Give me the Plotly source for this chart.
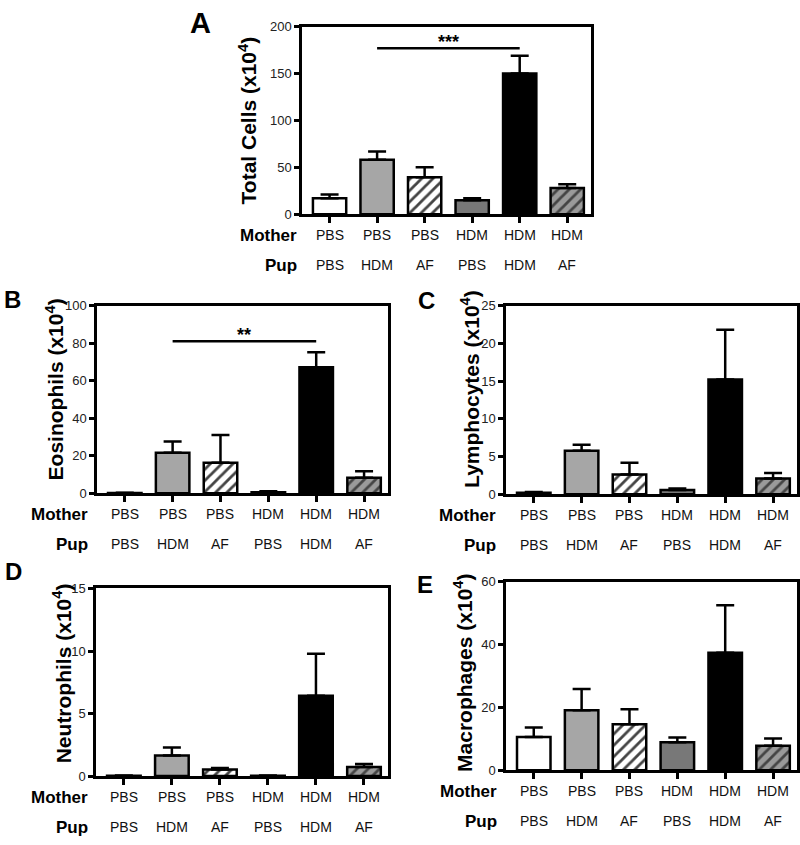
import plotly.graph_objects as go

# ---------------- data ----------------
mother = ["PBS", "PBS", "PBS", "HDM", "HDM", "HDM"]
pup = ["PBS", "HDM", "AF", "PBS", "HDM", "AF"]
groups = list(range(len(mother)))

total_mean = [17, 58, 39.5, 15, 150, 28]
total_sem = [4, 9, 10.5, 2, 19, 4]
eos_mean = [0.1, 21.5, 16.2, 0.5, 67.2, 8.2]
eos_sem = [0.1, 6.1, 14.8, 0.5, 8.0, 3.5]
lym_mean = [0.2, 5.77, 2.6, 0.55, 15.2, 2.08]
lym_sem = [0.1, 0.78, 1.57, 0.2, 6.6, 0.72]
neu_mean = [0.03, 1.64, 0.52, 0.03, 6.42, 0.73]
neu_sem = [0.02, 0.65, 0.13, 0.02, 3.36, 0.23]
mac_mean = [10.6, 19.1, 14.6, 8.9, 37.4, 7.8]
mac_sem = [3.0, 6.7, 4.8, 1.5, 15.1, 2.3]

titles = ["Total Cells (x10<sup>4</sup>)", "Eosinophils (x10<sup>4</sup>)",
          "Lymphocytes (x10<sup>4</sup>)", "Neutrophils (x10<sup>4</sup>)",
          "Macrophages (x10<sup>4</sup>)"]
letters = ["A", "B", "C", "D", "E"]
y_max = [200, 100, 25, 15, 60]
y_dtick = [50, 20, 5, 5, 20]
# significance brackets: (panel index, group from, group to, y level, label)
sig = [(0, 1, 4, 177, "***"), (1, 1, 4, 81, "**")]

# ---------------- style ----------------
bar_colors = ["#ffffff", "#a6a6a6", "#ffffff", "#787878", "#000000", "#9a9a9a"]
bar_patterns = ["", "", "/", "", "", "/"]
FONT = "Liberation Sans, Arial, sans-serif"

means = [total_mean, eos_mean, lym_mean, neu_mean, mac_mean]
sems = [total_sem, eos_sem, lym_sem, neu_sem, mac_sem]

W, H = 800, 845
# plot boxes in pixels: left, right, top, bottom
boxes = [(302, 591, 20, 211), (97, 388, 304, 495), (506, 797, 304, 496),
         (96, 388, 592, 783), (506, 797, 585, 777)]
row_label_shift = [-3, -7, -8, -6, -7]
title_dx = [54, 42, 36, 34, 43]
title_dy = [0, 10, 11, 9, 3]
letter_pos = [(200, 16, 29), (12, 298, 24), (427, 299, 24), (13, 575, 24), (425, 588, 24)]

fig = go.Figure()
annotations = []
layout = {}
for i in range(5):
    xa = "x" if i == 0 else f"x{i+1}"
    ya = "y" if i == 0 else f"y{i+1}"
    xkey = "xaxis" if i == 0 else f"xaxis{i+1}"
    ykey = "yaxis" if i == 0 else f"yaxis{i+1}"
    l, r, t, b = boxes[i]
    fig.add_trace(go.Bar(
        x=groups, y=means[i], width=0.7, xaxis=xa, yaxis=ya,
        marker=dict(color=bar_colors, line=dict(color="black", width=2.5),
                    pattern=dict(shape=bar_patterns, fillmode="overlay",
                                 fgcolor="black", fgopacity=1, size=8, solidity=0.35)),
        error_y=dict(type="data", array=sems[i], arrayminus=[0] * 6,
                     symmetric=False, color="black", thickness=2.5, width=9),
        showlegend=False, hoverinfo="skip"))
    layout[xkey] = dict(domain=[l / W, r / W], anchor=ya, range=[-0.58, 5.5],
                        showline=True, linecolor="black", linewidth=2.5, mirror=True,
                        showgrid=False, zeroline=False, tickvals=groups,
                        ticks="outside", ticklen=6, tickwidth=2.5, tickcolor="black",
                        showticklabels=False, fixedrange=True)
    layout[ykey] = dict(domain=[1 - b / H, 1 - t / H], anchor=xa, range=[0, y_max[i]],
                        dtick=y_dtick[i], showline=True, linecolor="black", linewidth=2.5,
                        mirror=True, showgrid=False, zeroline=False,
                        ticks="outside", ticklen=5, tickwidth=2.5, tickcolor="black",
                        tickfont=dict(family=FONT, size=13, color="#222"), fixedrange=True)
    # category labels
    for g in groups:
        annotations.append(dict(x=g, xref=xa, y=0, yref=f"{ya} domain", yshift=-21,
                                text=mother[g], showarrow=False, yanchor="middle",
                                font=dict(family=FONT, size=14, color="#111")))
        annotations.append(dict(x=g, xref=xa, y=0, yref=f"{ya} domain", yshift=-51,
                                text=pup[g], showarrow=False, yanchor="middle",
                                font=dict(family=FONT, size=14, color="#111")))
    for txt, dy in (("Mother", -21), ("Pup", -51)):
        annotations.append(dict(x=0, xref=f"{xa} domain", xanchor="right",
                                xshift=row_label_shift[i], y=0, yref=f"{ya} domain",
                                yshift=dy, yanchor="middle", text=f"<b>{txt}</b>",
                                showarrow=False,
                                font=dict(family=FONT, size=17, color="black")))
    # y title
    annotations.append(dict(x=0, xref=f"{xa} domain", xshift=-title_dx[i], xanchor="center",
                            y=0.5, yref=f"{ya} domain", yshift=title_dy[i], yanchor="middle",
                            textangle=-90, text=f"<b>{titles[i]}</b>", showarrow=False,
                            font=dict(family=FONT, size=21, color="black")))
    # panel letter
    lx, ly, ls = letter_pos[i]
    annotations.append(dict(x=lx / W, y=1 - ly / H, xref="paper", yref="paper",
                            xanchor="center", yanchor="middle", text=f"<b>{letters[i]}</b>",
                            showarrow=False, font=dict(family=FONT, size=ls, color="black")))

for (p, g0, g1, yv, lab) in sig:
    xa = "x" if p == 0 else f"x{p+1}"
    ya = "y" if p == 0 else f"y{p+1}"
    fig.add_trace(go.Scatter(x=[g0, g1], y=[yv, yv], mode="lines", xaxis=xa, yaxis=ya,
                             line=dict(color="black", width=2.5), showlegend=False,
                             hoverinfo="skip"))
    annotations.append(dict(x=(g0 + g1) / 2, y=yv, xref=xa, yref=ya, yanchor="bottom",
                            yshift=-6, text=f"<b>{lab}</b>", showarrow=False,
                            font=dict(family=FONT, size=18, color="black")))

fig.update_layout(width=W, height=H, margin=dict(l=0, r=0, t=0, b=0),
                  paper_bgcolor="white", plot_bgcolor="white",
                  annotations=annotations, bargap=0.3, **layout)
fig.write_html("out.html", config={"displayModeBar": False},
               post_script="document.body.style.margin='0';"
                           "document.body.style.overflow='hidden';")
